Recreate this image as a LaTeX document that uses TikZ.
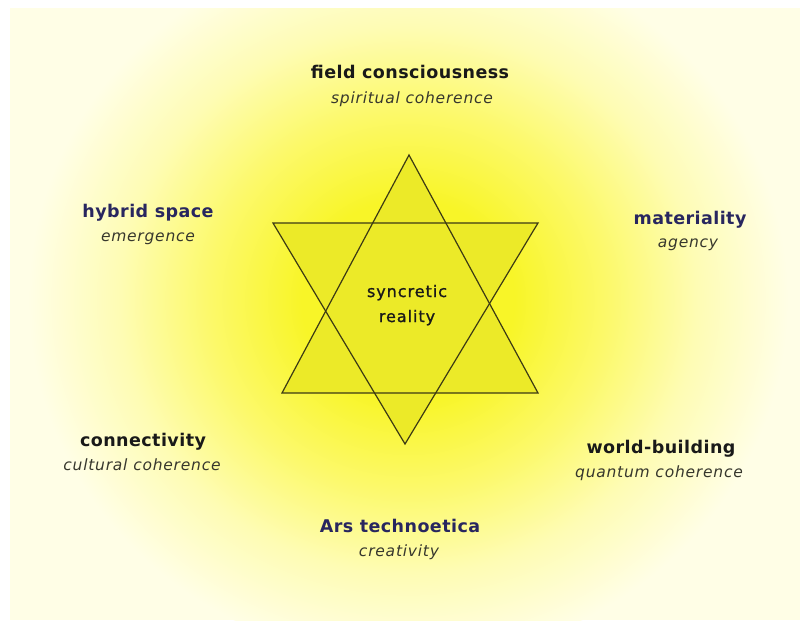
\documentclass[tikz,border=0pt]{standalone}
\usepackage{fontspec}
\setmainfont{DejaVu Sans}
\definecolor{bgc}{RGB}{255,254,230}
\definecolor{glowA}{RGB}{248,245,40}
\definecolor{glowB}{RGB}{252,249,105}
\definecolor{glowC}{RGB}{254,252,180}
\definecolor{starfill}{RGB}{236,234,40}
\definecolor{starline}{RGB}{60,58,20}
\definecolor{navy}{RGB}{40,38,95}
\definecolor{darktext}{RGB}{25,25,25}
\definecolor{subtext}{RGB}{55,55,45}
\pgfdeclareradialshading{glow}{\pgfpoint{0bp}{0bp}}{color(0bp)=(glowA); color(7bp)=(glowA); color(13bp)=(glowB); color(19bp)=(glowC); color(25bp)=(bgc); color(50bp)=(bgc)}
\begin{document}
\begin{tikzpicture}[x=1pt,y=-1pt,
  title/.style={anchor=base,inner sep=0pt,font=\fontsize{17.5}{20}\selectfont\bfseries\addfontfeature{LetterSpace=2.5}},
  sub/.style={anchor=base,inner sep=0pt,font=\fontsize{15.5}{18}\selectfont\itshape\addfontfeature{LetterSpace=5},text=subtext},
  centre/.style={anchor=base,inner sep=0pt,font=\fontsize{16}{19}\selectfont\addfontfeature{LetterSpace=6,FakeBold=1.2},text=darktext},
  starline/.style={draw=starline,line width=1.2pt,line join=miter}]
\useasboundingbox (0,0) rectangle (800,627);
\fill[white] (0,0) rectangle (800,627);
\fill[bgc] (10,8) rectangle (800,620);
\begin{scope}
\clip (10,8) rectangle (800,620);
\shade[shading=glow] (408,300) ellipse [x radius=380, y radius=360];
\end{scope}
% star vertices
\coordinate (u1) at (409,155);
\coordinate (u2) at (282,393);
\coordinate (u3) at (538,393);
\coordinate (d1) at (273,223);
\coordinate (d2) at (538,223);
\coordinate (d3) at (405,444);
\fill[starfill] (u1) -- (u2) -- (u3) -- cycle;
\fill[starfill] (d1) -- (d2) -- (d3) -- cycle;
\draw[starline] (u1) -- (u2) -- (u3) -- cycle;
\draw[starline] (d1) -- (d2) -- (d3) -- cycle;
% labels
\node[title,text=darktext] (fc) at (410,78) {field consciousness};
\node[sub] (fcs) at (412,103) {spiritual coherence};
\node[title,text=navy] (hs) at (148,217) {hybrid space};
\node[sub] (hss) at (148,241) {emergence};
\node[title,text=navy] (ma) at (690,224) {materiality};
\node[sub] (mas) at (688,247) {agency};
\node[centre] (sy) at (407,297) {syncretic};
\node[centre] (re) at (407,322) {reality};
\node[title,text=darktext] (co) at (143,446) {connectivity};
\node[sub] (cos) at (142,470) {cultural coherence};
\node[title,text=darktext] (wb) at (661,453) {world-building};
\node[sub] (wbs) at (659,477) {quantum coherence};
\node[title,text=navy] (ar) at (400,532) {Ars technoetica};
\node[sub] (ars) at (399,556) {creativity};
\end{tikzpicture}
\end{document}
